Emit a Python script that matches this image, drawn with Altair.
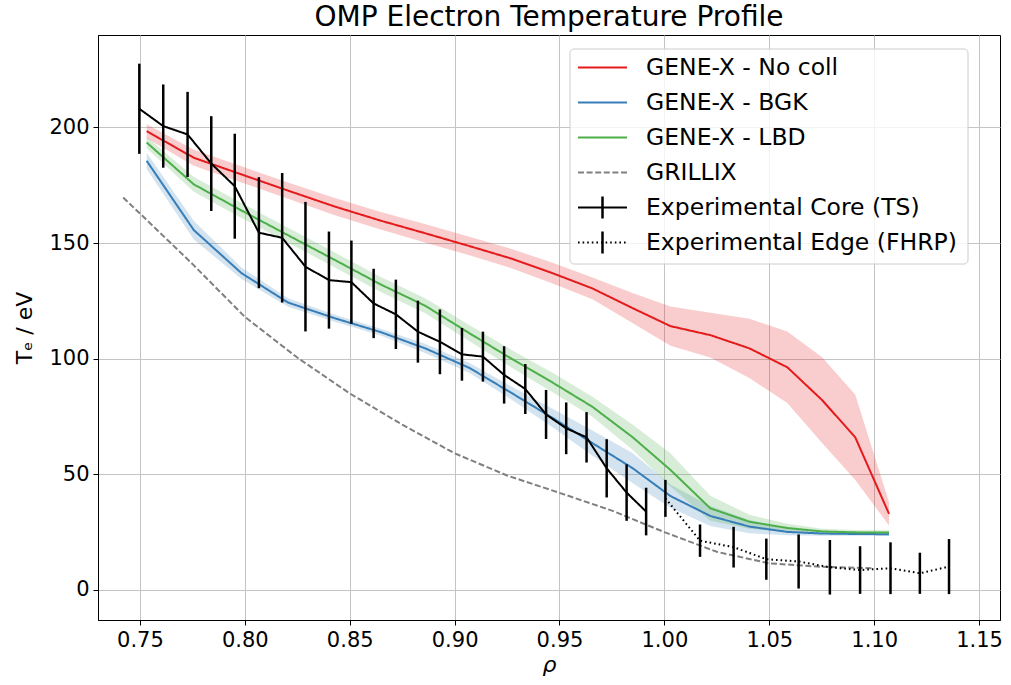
import altair as alt
import pandas as pd

# ---------------- data ----------------
SERIES = ["GENE-X - No coll", "GENE-X - BGK", "GENE-X - LBD", "GRILLIX",
          "Experimental Core (TS)", "Experimental Edge (FHRP)"]
COLORS = ["#e41a1c", "#377eb8", "#4daf4a", "#808080", "#000000", "#000000"]
DASHES = [[1, 0], [1, 0], [1, 0], [6, 2.6], [1, 0], [1.6, 3]]

rho_gx = [0.7532, 0.7757, 0.7984, 0.8206, 0.8429, 0.8648, 0.8862, 0.9071, 0.9271, 0.9467,
          0.9657, 0.9848, 1.0029, 1.0219, 1.0405, 1.0586, 1.0752, 1.0910, 1.1071]

te_nocoll = [198.4, 186.9, 179.7, 172.7, 165.8, 159.7, 154.2, 148.7, 143.3, 137.0,
             130.4, 121.9, 114.1, 110.2, 104.5, 96.3, 82.1, 66.0, 32.9]
err_nocoll = [3.0, 3.5, 3.5, 3.5, 3.7, 3.8, 4.0, 4.0, 4.2, 4.5,
              4.7, 6.5, 8.5, 9.7, 12.8, 15.5, 18.5, 18.4, 5.0]

te_bgk = [185.6, 155.6, 137.0, 124.3, 117.5, 111.5, 104.4, 96.0, 85.2, 74.4,
          63.5, 52.7, 40.6, 32.0, 27.4, 25.1, 24.4, 24.2, 24.1]
err_bgk = [3.5, 4.0, 2.5, 1.8, 1.5, 1.5, 2.0, 2.2, 2.8, 4.0,
           5.5, 6.5, 5.0, 4.3, 2.9, 1.5, 1.0, 0.8, 0.8]

te_lbd = [193.5, 175.4, 164.1, 153.4, 142.7, 132.1, 122.8, 111.0, 100.0, 89.7,
          79.2, 66.1, 51.9, 35.3, 29.5, 26.8, 25.3, 24.9, 24.8]
err_lbd = [2.5, 3.2, 3.2, 3.2, 3.2, 3.2, 3.2, 3.5, 3.8, 4.2,
           4.3, 5.5, 7.2, 5.4, 3.0, 1.8, 1.2, 1.0, 1.0]

rho_grillix = [0.742, 0.75, 0.775, 0.80, 0.825, 0.85, 0.875, 0.90, 0.925, 0.95,
               0.975, 1.00, 1.025, 1.05, 1.075, 1.10]
te_grillix = [169.7, 162.8, 141.0, 118.1, 100.5, 85.0, 71.5, 59.1, 49.5, 42.0,
              34.3, 25.0, 16.5, 11.5, 10.0, 9.4]

rho_ts = [0.7497, 0.7611, 0.7727, 0.7840, 0.7952, 0.8067, 0.8178, 0.8289, 0.8401, 0.8508,
          0.8614, 0.8720, 0.8825, 0.8930, 0.9035, 0.9135, 0.9236, 0.9337, 0.9436, 0.9532,
          0.9629, 0.9725, 0.9820, 0.9913]
te_ts = [208.1, 200.6, 197.0, 184.4, 174.6, 154.5, 152.3, 139.8, 134.0, 133.1,
         123.9, 119.2, 111.7, 107.3, 101.9, 100.9, 93.0, 86.9, 75.9, 69.9,
         66.0, 52.6, 42.1, 33.9]
err_ts = [19.5, 18.0, 18.4, 20.5, 22.7, 24.0, 28.0, 28.0, 21.0, 18.0,
          15.0, 15.0, 13.4, 14.0, 11.4, 10.8, 12.4, 10.8, 10.6, 11.2,
          10.9, 12.6, 12.2, 10.3]

rho_fhrp = [1.0005, 1.0170, 1.0330, 1.0486, 1.0640, 1.0789, 1.0933, 1.1078, 1.1218, 1.1357]
te_fhrp = [39.6, 21.3, 18.5, 13.3, 12.3, 9.8, 8.6, 9.4, 7.2, 10.1]
err_fhrp = [8.0, 7.0, 8.8, 8.9, 11.7, 11.8, 10.3, 11.2, 8.9, 11.9]

X_TICKS = [0.75, 0.80, 0.85, 0.90, 0.95, 1.00, 1.05, 1.10, 1.15]
Y_TICKS = [0, 50, 100, 150, 200]

# ---------------- tables ----------------
band_rows, line_rows, err_rows = [], [], []
for name, te, err in [(SERIES[0], te_nocoll, err_nocoll),
                      (SERIES[1], te_bgk, err_bgk),
                      (SERIES[2], te_lbd, err_lbd)]:
    for r, t, e in zip(rho_gx, te, err):
        band_rows.append({"series": name, "rho": r, "lo": t - e, "hi": t + e})
        line_rows.append({"series": name, "rho": r, "te": t})
for r, t in zip(rho_grillix, te_grillix):
    line_rows.append({"series": SERIES[3], "rho": r, "te": t})
for name, rr, tt, ee in [(SERIES[4], rho_ts, te_ts, err_ts),
                         (SERIES[5], rho_fhrp, te_fhrp, err_fhrp)]:
    for r, t, e in zip(rr, tt, ee):
        line_rows.append({"series": name, "rho": r, "te": t})
        err_rows.append({"series": name, "rho": r, "lo": t - e, "hi": t + e})

bands_df = pd.DataFrame(band_rows)
lines_df = pd.DataFrame(line_rows)
errs_df = pd.DataFrame(err_rows)

# ---------------- layout ----------------
W, H = 902, 585
FONT = "DejaVu Sans"

xscale = alt.Scale(domain=[0.73, 1.16], nice=False, zero=False)
yscale = alt.Scale(domain=[-13, 240], nice=False, zero=False)
xaxis = alt.Axis(values=X_TICKS, format=".2f", title="ρ", titleFontStyle="italic",
                 labelPadding=4, titlePadding=4)
yaxis = alt.Axis(values=Y_TICKS, title="Tₑ / eV", labelPadding=4, titlePadding=12)

color_enc = alt.Color("series:N", scale=alt.Scale(domain=SERIES, range=COLORS), legend=None)
dash_enc = alt.StrokeDash("series:N", scale=alt.Scale(domain=SERIES, range=DASHES), legend=None)

bands = alt.Chart(bands_df).mark_area(opacity=0.22, orient="vertical").encode(
    x=alt.X("rho:Q", scale=xscale, axis=xaxis),
    y=alt.Y("lo:Q", scale=yscale, axis=yaxis),
    y2="hi:Q",
    color=color_enc,
)

lines = alt.Chart(lines_df).mark_line(strokeWidth=2).encode(
    x=alt.X("rho:Q", scale=xscale, axis=xaxis),
    y=alt.Y("te:Q", scale=yscale, axis=yaxis),
    color=color_enc,
    strokeDash=dash_enc,
)

errs = alt.Chart(errs_df).mark_rule(color="black", strokeWidth=2.5).encode(
    x=alt.X("rho:Q", scale=xscale, axis=xaxis),
    y=alt.Y("lo:Q", scale=yscale, axis=yaxis),
    y2="hi:Q",
    detail="series:N",
)

main = alt.layer(bands, lines, errs)

# ---------------- hand-made legend (pixel layout inside plot area) ----------------
LX0, LX1, LY0, LY1 = 472, 870, 14, 229
ROW0, ROWDY = 32.5, 35
SYM0, SYM1, TXT = 480, 529, 548
leg_df = pd.DataFrame({
    "series": SERIES,
    "ly": [ROW0 + ROWDY * i for i in range(len(SERIES))],
})
leg_df["sx0"] = SYM0
leg_df["sx1"] = SYM1
leg_df["sxc"] = (SYM0 + SYM1) / 2
leg_df["tx"] = TXT
leg_df["ly0"] = leg_df["ly"] - 11
leg_df["ly1"] = leg_df["ly"] + 11
leg_df["has_bar"] = [0, 0, 0, 0, 1, 1]

lxs = alt.Scale(domain=[0, W], nice=False, zero=False)
lys = alt.Scale(domain=[0, H], nice=False, zero=False, reverse=True)

frame_df = pd.DataFrame({"x0": [LX0], "x1": [LX1], "y0": [LY0], "y1": [LY1]})
frame = alt.Chart(frame_df).mark_rect(fill="white", fillOpacity=0.8, stroke="#cccccc",
                                      strokeWidth=1, cornerRadius=4).encode(
    x=alt.X("x0:Q", scale=lxs, axis=None), x2="x1:Q",
    y=alt.Y("y0:Q", scale=lys, axis=None), y2="y1:Q",
)
leg_lines = alt.Chart(leg_df).mark_rule(strokeWidth=2).encode(
    x=alt.X("sx0:Q", scale=lxs, axis=None), x2="sx1:Q",
    y=alt.Y("ly:Q", scale=lys, axis=None),
    color=color_enc,
    strokeDash=dash_enc,
)
leg_bars = alt.Chart(leg_df).transform_filter("datum.has_bar == 1").mark_rule(
    color="black", strokeWidth=2.5).encode(
    x=alt.X("sxc:Q", scale=lxs, axis=None),
    y=alt.Y("ly0:Q", scale=lys, axis=None), y2="ly1:Q",
)
leg_text = alt.Chart(leg_df).mark_text(align="left", baseline="middle", fontSize=23.5,
                                       font=FONT, color="black").encode(
    x=alt.X("tx:Q", scale=lxs, axis=None),
    y=alt.Y("ly:Q", scale=lys, axis=None),
    text="series:N",
)
legend = alt.layer(frame, leg_lines, leg_bars, leg_text)

chart = alt.layer(main, legend).resolve_scale(x="independent", y="independent").properties(
    width=W, height=H,
    title=alt.TitleParams("OMP Electron Temperature Profile", fontSize=28, font=FONT,
                          fontWeight="normal", anchor="middle", color="black", offset=3),
    autosize=alt.AutoSizeParams(type="none"),
    padding={"left": 98, "top": 35, "right": 11, "bottom": 65},
).configure_view(stroke="black", strokeWidth=1).configure_axis(
    labelFont=FONT, titleFont=FONT, labelFontSize=21, titleFontSize=22,
    titleFontWeight="normal", labelColor="black", titleColor="black",
    domainColor="black", tickColor="black", tickSize=5, gridColor="#c4c4c4", gridWidth=1,
)

chart.save("out.html", embed_options={"renderer": "svg", "actions": False})
